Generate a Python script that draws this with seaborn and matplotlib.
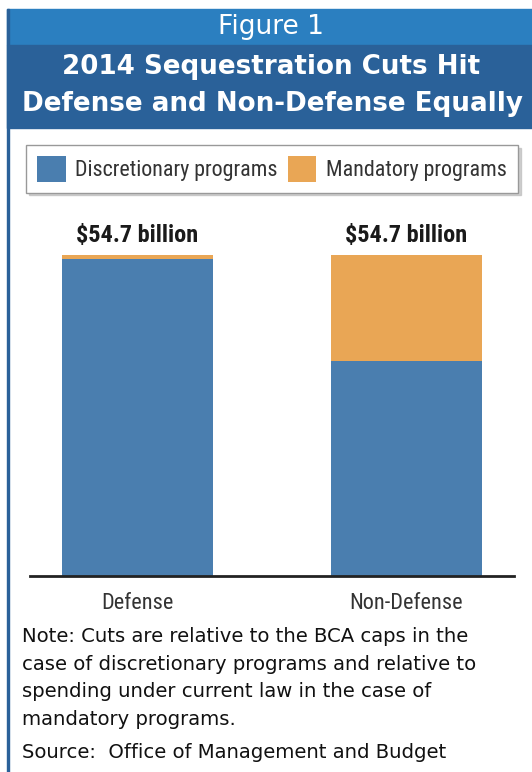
import matplotlib
matplotlib.use('Agg')
import matplotlib.pyplot as plt
from matplotlib import font_manager as fm
import seaborn as sns
import pandas as pd
from matplotlib.patches import Rectangle, Patch

# data (billions of dollars)
categories = ['Defense', 'Non-Defense']
discretionary = [54.0, 36.6]
mandatory = [0.7, 18.1]
totals = [d + m for d, m in zip(discretionary, mandatory)]
total_labels = ['$54.7 billion', '$54.7 billion']
legend_labels = ['Discretionary programs', 'Mandatory programs']

blue = '#4a7eaf'
orange = '#e9a655'
band_light = '#2b7fc0'
band_dark = '#2a6199'

sns.set_theme(style='white')
plt.rcParams['font.family'] = ['DejaVu Sans']


def find_condensed(bold=False):
    # look for a narrow/condensed face among the installed fonts
    found = None
    for f in fm.fontManager.ttflist:
        path = f.fname.lower()
        if not ('condensed' in path or 'narrow' in path):
            continue
        if 'extra' in path or 'semi' in path or 'italic' in path or 'oblique' in path:
            continue
        is_bold = 'bold' in path
        if is_bold == bold:
            found = f.fname
            if 'liberation' in path:
                break
    if found:
        return fm.FontProperties(fname=found)
    return fm.FontProperties(family='DejaVu Sans', weight='bold' if bold else 'normal')


cond = find_condensed(False)
cond_bold = find_condensed(True)

W, H = 532, 772
fig = plt.figure(figsize=(W / 100, H / 100), dpi=100)


def fx(px):
    return px / W


def fy(py):
    return 1 - py / H


# header bands
fig.patches.append(Rectangle((fx(7), fy(45)), fx(W - 7), 36 / H, transform=fig.transFigure,
                             color=band_light, zorder=0))
fig.patches.append(Rectangle((fx(7), fy(128)), fx(W - 7), 83 / H, transform=fig.transFigure,
                             color=band_dark, zorder=0))
# left border
fig.patches.append(Rectangle((fx(7), 0), fx(2), fy(9), transform=fig.transFigure,
                             color=band_dark, zorder=0))

fig.text(fx(271), fy(27), 'Figure 1', color='white', fontsize=19, ha='center', va='center')
fig.text(fx(271), fy(67), '2014 Sequestration Cuts Hit', color='white', fontsize=18.8,
         fontweight='bold', ha='center', va='center')
fig.text(fx(272), fy(104), 'Defense and Non-Defense Equally', color='white', fontsize=18.8,
         fontweight='bold', ha='center', va='center')

# main axes
ymax = 64.0
ax_h = 321 / 54.7 * ymax
ax = fig.add_axes([fx(30), fy(576), fx(484), ax_h / H])

df = pd.DataFrame({'category': categories, 'total': totals, 'disc': discretionary})
sns.barplot(data=df, x='category', y='total', color=orange, width=0.56, linewidth=0,
            saturation=1, ax=ax)
sns.barplot(data=df, x='category', y='disc', color=blue, width=0.56, linewidth=0,
            saturation=1, ax=ax)

ax.set_xlim(-0.4, 1.4)
ax.set_ylim(0, ymax)
lab_font = cond_bold.copy()
lab_font.set_size(17.5)
for i, lab in enumerate(total_labels):
    ax.text(i, totals[i] + 1.3, lab, ha='center', va='bottom', fontproperties=lab_font,
            color='#1a1a1a')

sns.despine(ax=ax, left=True, top=True, right=True)
ax.spines['bottom'].set_color('#222222')
ax.spines['bottom'].set_linewidth(2)
ax.set_yticks([])
ax.set_xlabel('')
ax.set_ylabel('')
ax.tick_params(axis='x', length=0, pad=12)
tick_font = cond.copy()
tick_font.set_size(16)
for t in ax.get_xticklabels():
    t.set_fontproperties(tick_font)
    t.set_color('#333333')

leg_font = cond.copy()
leg_font.set_size(15.8)
handles = [Patch(facecolor=blue, edgecolor='none'), Patch(facecolor=orange, edgecolor='none')]
leg = fig.legend(handles, legend_labels, loc='center', bbox_to_anchor=(fx(272), fy(169)),
                 ncol=2, frameon=True, fancybox=False,
                 shadow={'color': '#bbbbbb', 'alpha': 0.7}, edgecolor='#999999',
                 prop=leg_font, handlelength=1.3, handleheight=1.4,
                 handletextpad=0.45, columnspacing=0.45, borderpad=0.5, borderaxespad=0)
leg.get_frame().set_linewidth(1)
for t in leg.get_texts():
    t.set_color('#333333')

note = ('Note: Cuts are relative to the BCA caps in the\n'
        'case of discretionary programs and relative to\n'
        'spending under current law in the case of\n'
        'mandatory programs.')
fig.text(fx(22), fy(627), note, fontsize=14.1, ha='left', va='top', linespacing=1.58,
         color='#111111')
fig.text(fx(22), fy(753), 'Source:  Office of Management and Budget', fontsize=14.1,
         ha='left', va='center', color='#111111')

fig.savefig('out.png', dpi=100)
